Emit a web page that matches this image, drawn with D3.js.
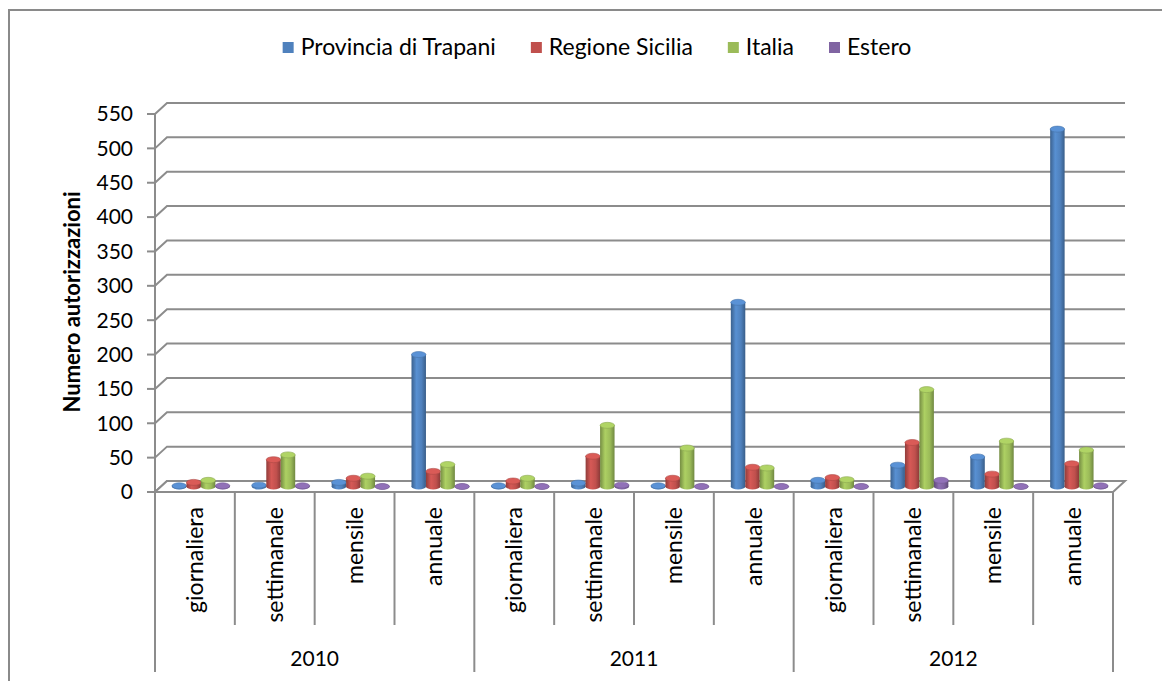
<!DOCTYPE html>
<html>
<head>
<meta charset="utf-8">
<script src="https://cdn.jsdelivr.net/npm/d3@7"></script>
<style>
  body { margin: 0; background: #fff; }
  svg text { font-family: Lato, "Liberation Sans", sans-serif; fill: #000; }
</style>
</head>
<body>
<div id="chart"></div>
<script>
var years = ["2010", "2011", "2012"];
var periods = ["giornaliera", "settimanale", "mensile", "annuale"];
var seriesNames = ["Provincia di Trapani", "Regione Sicilia", "Italia", "Estero"];
var seriesColors = ["#4F81BD", "#C0504D", "#9BBB59", "#8064A2"];
var yTicks = [0, 50, 100, 150, 200, 250, 300, 350, 400, 450, 500, 550];

// values per year x period (2010..2012, giornaliera..annuale)
var trapani = [1, 2, 6, 192, 1, 5, 1, 268, 9, 31, 43, 520];
var sicilia = [6, 39, 12, 22, 8, 44, 12, 28, 13, 64, 18, 33];
var italia = [9, 46, 15, 32, 12, 89, 56, 27, 10, 141, 66, 53];
var estero = [1, 1, 0, 0, 0, 2, 0, 0, 0, 9, 0, 1];

var seriesValues = [trapani, sicilia, italia, estero];

var W = 1162, H = 681;
var svg = d3.select("#chart").append("svg")
  .attr("width", W).attr("height", H);

// frame
svg.append("rect")
  .attr("x", 9).attr("y", 10).attr("width", 1200).attr("height", 700)
  .attr("fill", "none").attr("stroke", "#8a8a8a").attr("stroke-width", 2);

var cats = [];
years.forEach(y => periods.forEach(p => cats.push(y + "|" + p)));

var x0 = 155, x1 = 1113;
var depthX = 12, depthY = -11;

var scX = d3.scaleBand().domain(cats).range([x0, x1]).padding(0);
var scS = d3.scaleBand().domain(seriesNames).range([0, scX.bandwidth()])
  .paddingInner(0).paddingOuter(0.76);
var scY = d3.scaleLinear().domain([0, 550]).range([492, 114]);

var grid = "#8c8c8c";

// side wall + back wall gridlines
var gGrid = svg.append("g");
yTicks.forEach(function(v) {
  var yf = scY(v);
  gGrid.append("path")
    .attr("d", `M${x0},${yf} L${x0 + depthX},${yf + depthY} L${x1 + depthX},${yf + depthY}`)
    .attr("fill", "none").attr("stroke", grid).attr("stroke-width", 2);
});

// floor
svg.append("path")
  .attr("d", `M${x0},${scY(0)} L${x1},${scY(0)} L${x1 + depthX},${scY(0) + depthY} L${x0 + depthX},${scY(0) + depthY}Z`)
  .attr("fill", "#fff").attr("stroke", grid).attr("stroke-width", 2);

// gradients for cylinders
var defs = svg.append("defs");
seriesColors.forEach(function(c, i) {
  var base = d3.color(c);
  var gr = defs.append("linearGradient").attr("id", "cyl" + i)
    .attr("x1", "0%").attr("x2", "100%");
  gr.append("stop").attr("offset", "0%").attr("stop-color", base.darker(0.8));
  gr.append("stop").attr("offset", "35%").attr("stop-color", base.brighter(0.3));
  gr.append("stop").attr("offset", "70%").attr("stop-color", base);
  gr.append("stop").attr("offset", "100%").attr("stop-color", base.darker(0.9));
});

// cylinders
var ry = 3;
var gBars = svg.append("g");
cats.forEach(function(cat, ci) {
  seriesNames.forEach(function(s, si) {
    var v = seriesValues[si][ci];
    var w = scS.bandwidth();
    var bx = scX(cat) + scS(s) + depthX / 2;
    var yb = scY(0) + depthY / 2;
    var yt = scY(v) + depthY / 2;
    var g = gBars.append("g");
    g.append("ellipse")
      .attr("cx", bx + w / 2).attr("cy", yb).attr("rx", w / 2).attr("ry", ry)
      .attr("fill", "url(#cyl" + si + ")");
    if (yb - yt > 0) {
      g.append("rect")
        .attr("x", bx).attr("y", yt).attr("width", w).attr("height", yb - yt)
        .attr("fill", "url(#cyl" + si + ")");
    }
    g.append("ellipse")
      .attr("cx", bx + w / 2).attr("cy", yt).attr("rx", w / 2).attr("ry", ry)
      .attr("fill", d3.color(seriesColors[si]).brighter(0.35))
      .attr("stroke", d3.color(seriesColors[si]).darker(0.3)).attr("stroke-width", 0.6);
  });
});

// y axis
var gAx = svg.append("g");
gAx.append("line")
  .attr("x1", x0).attr("x2", x0).attr("y1", scY(550)).attr("y2", scY(0))
  .attr("stroke", grid).attr("stroke-width", 2);
yTicks.forEach(function(v) {
  gAx.append("line")
    .attr("x1", x0 - 8).attr("x2", x0).attr("y1", scY(v)).attr("y2", scY(v))
    .attr("stroke", grid).attr("stroke-width", 2);
  gAx.append("text")
    .attr("x", 133).attr("y", scY(v)).attr("dy", "0.35em")
    .attr("text-anchor", "end").attr("font-size", 21)
    .text(v);
});
svg.append("text")
  .attr("transform", "translate(80,302) rotate(-90)")
  .attr("text-anchor", "middle").attr("font-size", 22).attr("font-weight", "bold")
  .text("Numero autorizzazioni");

// category dividers
var yFloor = scY(0);
d3.range(cats.length + 1).forEach(function(i) {
  var xx = i < cats.length ? scX(cats[i]) : x1;
  var isYear = i % periods.length === 0;
  svg.append("line")
    .attr("x1", xx).attr("x2", xx).attr("y1", yFloor).attr("y2", isYear ? 672 : 625)
    .attr("stroke", grid).attr("stroke-width", 2);
});
cats.forEach(function(cat) {
  var cx = scX(cat) + scX.bandwidth() / 2;
  svg.append("text")
    .attr("transform", `translate(${cx},507) rotate(-90)`)
    .attr("dy", "0.35em")
    .attr("text-anchor", "end").attr("font-size", 23)
    .text(cat.split("|")[1]);
});
years.forEach(function(y) {
  var a = scX(y + "|" + periods[0]);
  var b = scX(y + "|" + periods[periods.length - 1]) + scX.bandwidth();
  svg.append("text")
    .attr("x", (a + b) / 2).attr("y", 666)
    .attr("text-anchor", "middle").attr("font-size", 21)
    .text(y);
});

// legend
var gLeg = svg.append("g");
var lx = 0;
seriesNames.forEach(function(s, i) {
  var it = gLeg.append("g").attr("transform", `translate(${lx},0)`);
  it.append("rect").attr("x", 0).attr("y", -5).attr("width", 11).attr("height", 11)
    .attr("fill", seriesColors[i]);
  var t = it.append("text").attr("x", 18).attr("dy", "0.35em")
    .attr("font-size", 23).text(s);
  lx += 18 + t.node().getComputedTextLength() + 35;
});
lx -= 35;
gLeg.attr("transform", `translate(${597 - lx / 2},47)`);
</script>
</body>
</html>
